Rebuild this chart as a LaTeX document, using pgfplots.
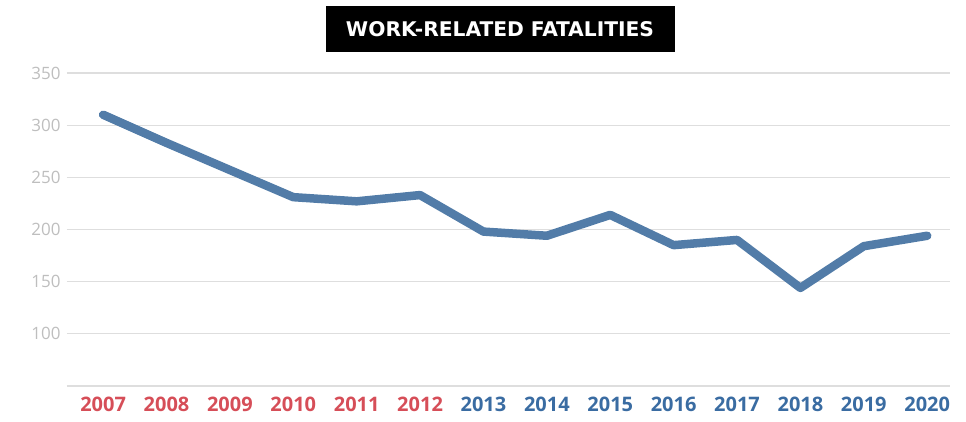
\documentclass[border=0pt]{standalone}
\usepackage{fontspec}
\usepackage{graphicx}
\setmainfont{Open Sans}
\newfontfamily\titlefont{DejaVu Sans Condensed}
\usepackage{pgfplots}
\pgfplotsset{compat=1.18}
\definecolor{linecol}{RGB}{82,124,168}
\definecolor{redlab}{RGB}{214,78,88}
\definecolor{bluelab}{RGB}{58,108,162}
\definecolor{ylab}{RGB}{190,190,190}
\definecolor{gridc}{RGB}{222,222,222}
\begin{document}
\begin{tikzpicture}
\path[use as bounding box] (-67pt,-36pt) rectangle (899pt,386pt);
\begin{axis}[
  at={(0pt,0pt)}, anchor=south west,
  scale only axis, width=883pt, height=313pt,
  xmin=-0.57, xmax=13.36, ymin=50, ymax=350,
  xtick={0,...,13},
  xticklabels={\textcolor{redlab}{2007},\textcolor{redlab}{2008},\textcolor{redlab}{2009},\textcolor{redlab}{2010},\textcolor{redlab}{2011},\textcolor{redlab}{2012},\textcolor{bluelab}{2013},\textcolor{bluelab}{2014},\textcolor{bluelab}{2015},\textcolor{bluelab}{2016},\textcolor{bluelab}{2017},\textcolor{bluelab}{2018},\textcolor{bluelab}{2019},\textcolor{bluelab}{2020}},
  ytick={100,150,200,250,300,350},
  ymajorgrids, grid style={gridc, line width=1.2pt},
  separate axis lines,
  axis x line*=bottom, axis y line*=left,
  x axis line style={gridc, line width=1.5pt, -},
  y axis line style={draw=none},
  major tick length=0pt,
  tick style={draw=none},
  /pgf/number format/assume math mode=true,
  yticklabel style={font=\fontsize{17}{19}\selectfont, text=ylab, xshift=-3pt},
  xticklabel style={font=\fontsize{20}{22}\selectfont\bfseries, yshift=-7pt},
  clip=false,
]
\addplot[linecol, line width=8.5pt, line join=round, line cap=round] coordinates {
(0,310) (1,283) (2,257) (3,231) (4,227) (5,233) (6,198) (7,194) (8,214) (9,185) (10,190) (11,144) (12,184) (13,194)
};
\end{axis}
\node[fill=black, minimum width=349pt, minimum height=46pt, inner sep=0pt] at (433pt,357pt) {};
\node[text=white, inner sep=0pt] at (433pt,357pt) {\resizebox{308pt}{15pt}{\titlefont\bfseries WORK-RELATED FATALITIES}};
\end{tikzpicture}
\end{document}
